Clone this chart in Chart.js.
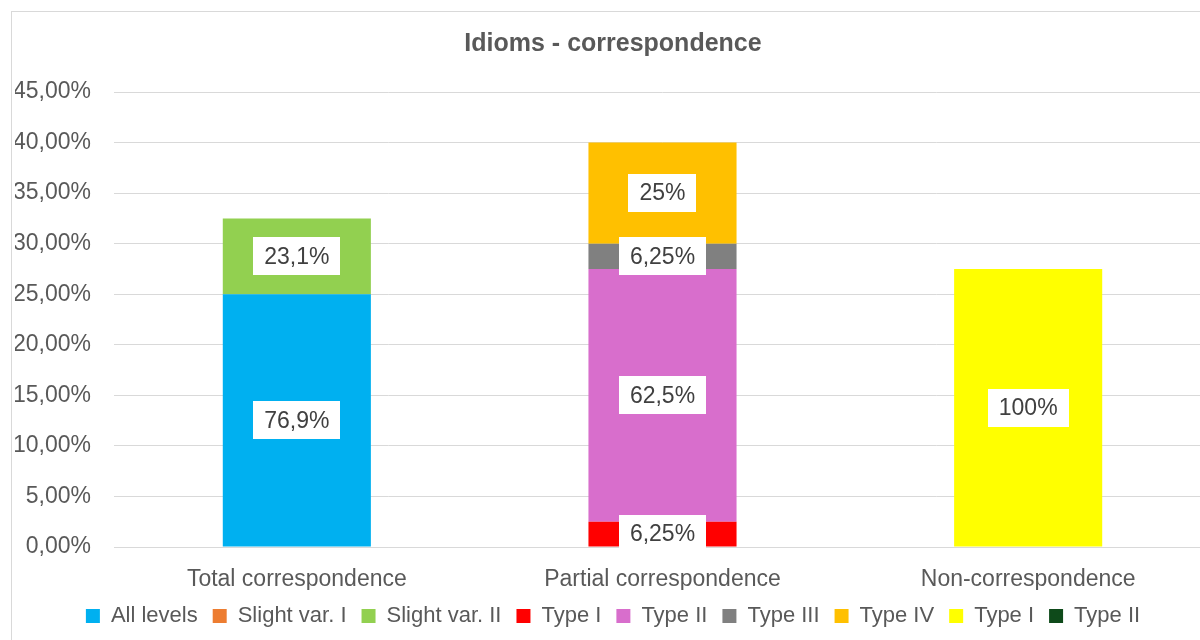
<!DOCTYPE html>
<html>
<head>
<meta charset="utf-8">
<script src="https://cdn.jsdelivr.net/npm/chart.js@4/dist/chart.umd.min.js"></script>
<style>
  html, body { margin: 0; padding: 0; background: #fff; overflow: hidden; width: 1200px; height: 640px; }
  #wrap { position: absolute; left: 0; top: 0; width: 1230px; height: 640px; }
</style>
</head>
<body>
<div id="wrap"><canvas id="c" width="1230" height="640"></canvas></div>
<script>
const categories = ['Total correspondence', 'Partial correspondence', 'Non-correspondence'];
const seriesNames = ['All levels', 'Slight var. I', 'Slight var. II', 'Type I', 'Type II', 'Type III', 'Type IV', 'Type I', 'Type II'];
const seriesColors = ['#00B0F0', '#ED7D31', '#92D050', '#FF0000', '#D86ECC', '#808080', '#FFC000', '#FFFF00', '#0E4A1A'];
const allLevels     = [25, 0, 0];
const slightVarI    = [0, 0, 0];
const slightVarII   = [7.5, 0, 0];
const partialTypeI  = [0, 2.5, 0];
const partialTypeII = [0, 25, 0];
const partialTypeIII= [0, 2.5, 0];
const partialTypeIV = [0, 10, 0];
const nonTypeI      = [0, 0, 27.5];
const nonTypeII     = [0, 0, 0];
const seriesValues = [allLevels, slightVarI, slightVarII, partialTypeI, partialTypeII, partialTypeIII, partialTypeIV, nonTypeI, nonTypeII];
const seriesLabels = [
  ['76,9%', null, null],
  [null, null, null],
  ['23,1%', null, null],
  [null, '6,25%', null],
  [null, '62,5%', null],
  [null, '6,25%', null],
  [null, '25%', null],
  [null, null, '100%'],
  [null, null, null]
];
const yTicks = { min: 0, max: 45, step: 5 };

const FONT = "'Liberation Sans', Arial, sans-serif";

const borderPlugin = {
  id: 'outerBorder',
  beforeDraw(chart) {
    const ctx = chart.ctx;
    ctx.save();
    ctx.fillStyle = '#ffffff';
    ctx.fillRect(0, 0, chart.width, chart.height);
    ctx.strokeStyle = '#d9d9d9';
    ctx.lineWidth = 1;
    ctx.strokeRect(11.5, 11.5, chart.width + 50, chart.height + 50);
    ctx.restore();
  }
};

const labelPlugin = {
  id: 'boxLabels',
  afterDatasetsDraw(chart) {
    const ctx = chart.ctx;
    ctx.save();
    ctx.font = '23px ' + FONT;
    ctx.textAlign = 'center';
    ctx.textBaseline = 'middle';
    chart.data.datasets.forEach((ds, i) => {
      const meta = chart.getDatasetMeta(i);
      meta.data.forEach((el, j) => {
        const txt = seriesLabels[i][j];
        if (!txt) return;
        const cx = el.x;
        const cy = (el.y + el.base) / 2;
        const w = ctx.measureText(txt).width + 22;
        const h = 38;
        ctx.fillStyle = '#ffffff';
        ctx.fillRect(Math.round(cx - w / 2), Math.round(cy - h / 2), Math.round(w), h);
        ctx.fillStyle = '#404040';
        ctx.fillText(txt, cx, cy + 1);
      });
    });
    ctx.restore();
  }
};

const datasets = seriesNames.map((name, i) => ({
  label: name,
  data: seriesValues[i],
  backgroundColor: seriesColors[i],
  borderWidth: 0,
  categoryPercentage: 1,
  barPercentage: 0.405
}));

new Chart(document.getElementById('c'), {
  type: 'bar',
  data: { labels: categories, datasets },
  plugins: [borderPlugin, labelPlugin],
  options: {
    responsive: false,
    animation: false,
    layout: { padding: { left: 15, right: 19, top: 13, bottom: 3 } },
    plugins: {
      title: {
        display: true,
        text: 'Idioms - correspondence',
        color: '#595959',
        font: { family: FONT, size: 25, weight: 'bold' },
        padding: { top: 16, bottom: 33 }
      },
      legend: {
        position: 'bottom',
        labels: {
          color: '#595959',
          font: { family: FONT, size: 22 },
          boxWidth: 14,
          boxHeight: 14,
          padding: 15
        }
      },
      tooltip: { enabled: false }
    },
    scales: {
      x: {
        stacked: true,
        grid: { display: false, drawTicks: false },
        border: { display: true, color: '#d9d9d9' },
        ticks: { color: '#595959', font: { family: FONT, size: 23 }, padding: 19, maxRotation: 0 },
        afterFit(scale) { scale.height = 43; }
      },
      y: {
        stacked: true,
        min: yTicks.min,
        max: yTicks.max,
        grid: { color: '#d9d9d9', drawTicks: false },
        border: { display: false },
        ticks: {
          stepSize: yTicks.step,
          color: '#595959',
          font: { family: FONT, size: 23 },
          padding: 23,
          callback: v => v.toFixed(2).replace('.', ',') + '%'
        },
        afterFit(scale) { scale.width = 99; }
      }
    }
  }
});
</script>
</body>
</html>
